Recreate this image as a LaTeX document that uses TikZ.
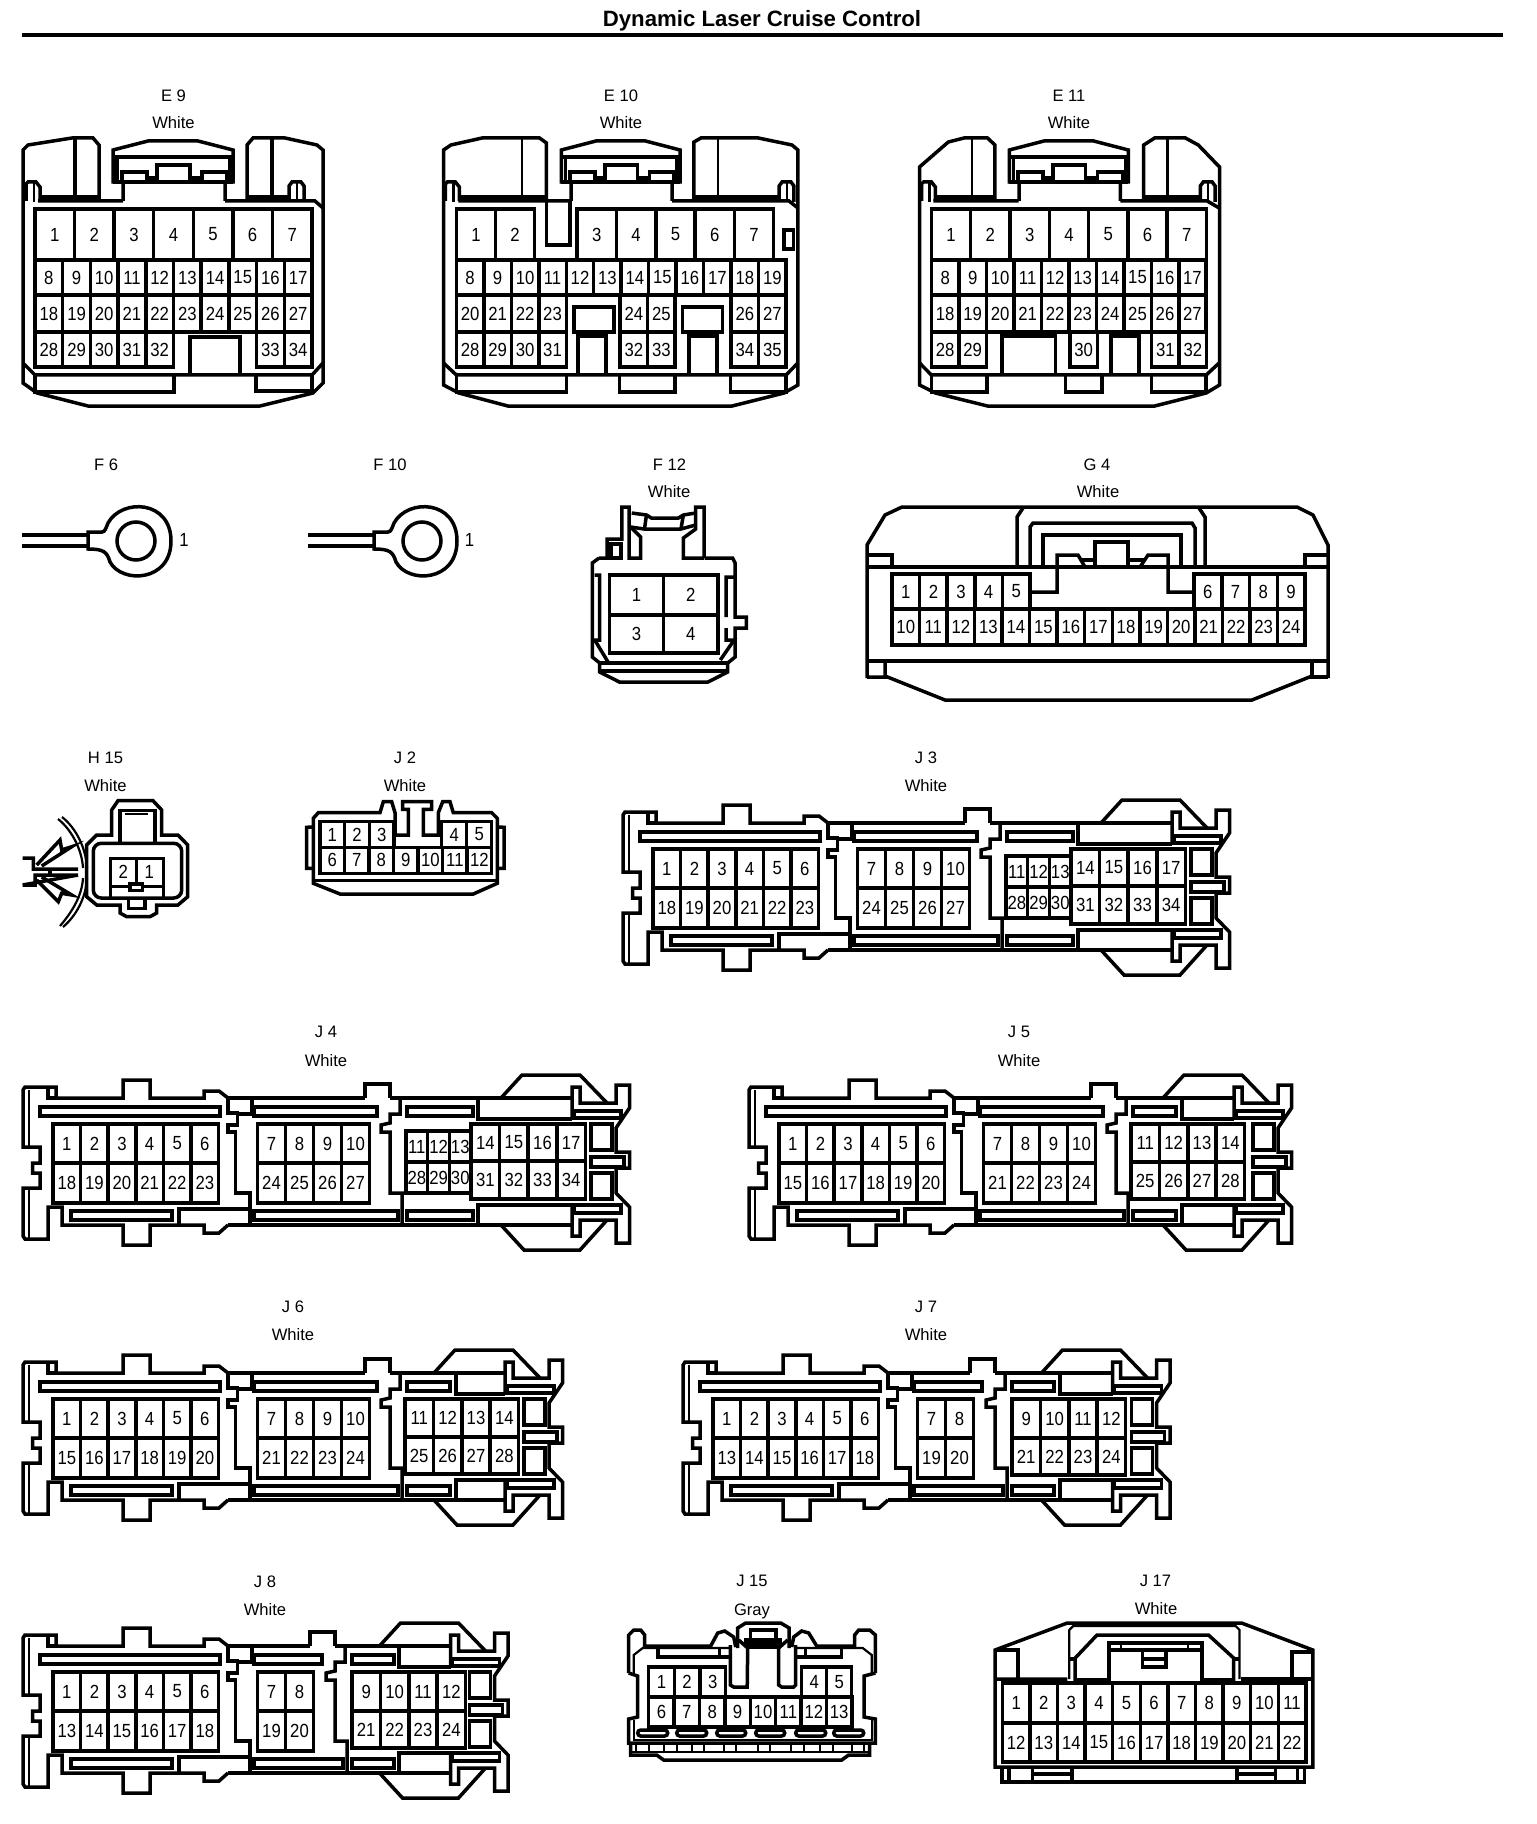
\documentclass[tikz,border=0pt]{standalone}
\usepackage{fontspec}
\setmainfont{Liberation Sans}
\newfontfamily\pinfont[FakeStretch=0.88]{Liberation Sans}
\tikzset{
 ol/.style={line width=1.75pt,line join=miter},
 tn/.style={line width=1.1pt},
 cell/.style={line width=1.75pt},
 pin/.style={inner sep=0pt,font=\pinfont\fontsize{9.5}{10}\selectfont},
 lab/.style={inner sep=0pt,font=\fontsize{8.3}{9}\selectfont},
}
\def\pfx{x}
\newcommand\prow[5]{%
 \foreach \lab [count=\i from 0] in {#5}{%
  \pgfmathsetmacro\xa{#1+\i*#2}\pgfmathsetmacro\xb{\xa+#2}%
  \pgfmathsetmacro\xc{\xa+#2/2}\pgfmathsetmacro\ym{(#3+#4)/2}%
  \draw[cell] (\xa,#3) rectangle (\xb,#4);
  \node[pin] (\pfx-\lab) at (\xc,\ym) {\lab};
 }}
\newcommand\conlab[4]{% name x y text
 \node[lab] (#1) at (#2,#3) {#4};}
% E family helpers
\newcommand\Etop[1]{\begin{scope}[shift={(#1,0)}]
 \draw[ol] (123,201)--(123,182)--(113,182)--(113,150)--(148,141)--(198,141)--(233,150)--(233,182)--(225,182)--(225,201);
 \draw[ol] (113,182)--(233,182);
 \draw[ol] (114,157)--(232,157);
 \draw[ol] (117,157)--(117,182);\draw[ol] (230,157)--(230,182);
 \draw[ol] (122,180)--(122,172)--(147,172)--(147,178)--(157,178)--(157,165)--(190,165)--(190,178)--(202,178)--(202,172)--(227,172)--(227,180);
\end{scope}}
\newcommand\Epl[1]{\draw[ol] (#1,201)--(#1,184)--(#1+2,182)--(#1+10,182)--(#1+14,187)--(#1+14,201);\draw[tn] (#1+8,183)--(#1+8,202);}
\newcommand\Epr[1]{\draw[ol] (#1,201)--(#1,186)--(#1+3,182)--(#1+12,182)--(#1+15,186)--(#1+15,202);\draw[tn] (#1+8,183)--(#1+8,201);}
% J family
\newcommand\Jconn[7]{%
\begin{scope}[shift={(#1,#2)}]
 \pgfmathsetmacro\ma{365+#3}\pgfmathsetmacro\mb{390+#3}
 \pgfmathsetmacro\ra{575+#4}
 \pgfmathsetmacro\sa{407+#3}
 \pgfmathsetmacro\ta{377+#3}\pgfmathsetmacro\tb{398+#3}
 % left
 \draw[ol] (228,1098)--(219,1091)--(204,1091)--(204,1098)--(150,1098)--(150,1080)--(123,1080)--(123,1098)--(56,1098)--(56,1087)--(25,1087)--(23,1090)--(23,1147)--(40,1147)--(40,1163)--(32.5,1163)--(32.5,1173)--(40,1173)--(40,1188)--(23,1188)--(23,1236)--(25,1239)--(48,1239)--(48,1207)--(62,1207)--(62,1225)--(123,1225)--(123,1245)--(150,1245)--(150,1225)--(204,1225)--(204,1233)--(219,1233)--(228,1225);
 \draw[tn] (29,1090)--(29,1147) (29,1188)--(29,1238);
 \draw[ol] (48,1088)--(48,1098)--(56,1098);
 \draw[ol] (40,1107) rectangle (220,1116);
 \draw[ol] (71,1211) rectangle (172,1220);
 \draw[ol] (179,1225)--(179,1209)--(250,1209);
 \draw[ol] (228,1098)--(228,1113)--(237.5,1113)--(237.5,1125)--(228,1125)--(228,1132)--(235.5,1132)--(235.5,1193)--(250,1193)--(250,1225);
 \draw[ol] (252,1098)--(252,1114)--(237.5,1114);
 \draw[ol] (254,1107) rectangle (\ta,1116);
 \draw[ol] (254,1211) rectangle (\tb,1220);
 % long lines
 \draw[ol] (228,1098)--(\ma,1098);
 \draw[ol] (\mb,1098)--(\ra,1098);
 \draw[ol] (228,1225)--(\ra,1225);
 % mid
 \begin{scope}[shift={(#3,0)}]
  \draw[ol] (365,1098)--(365,1084)--(390,1084)--(390,1098);
  \draw[ol] (390,1098)--(400,1098)--(400,1114)--(390,1114)--(390,1123)--(381,1125)--(381,1132)--(390,1132)--(390,1193)--(402,1193)--(402,1225);
 \end{scope}
 \draw[ol] (\sa,1107) rectangle (#5,1116);
 \draw[ol] (\sa,1211) rectangle (#5,1220);
 \draw[ol] (#6,1098)--(#6,1119)--(\ra,1119);
 \draw[ol] (#6,1225)--(#6,1205)--(\ra,1205);
 % right
 \begin{scope}[shift={(#4,0)}]
  \draw[ol] (504,1098)--(525,1075)--(583,1075)--(610,1103);
  \draw[ol] (575,1119)--(575,1087)--(583,1087)--(583,1103)--(619,1103)--(619,1085)--(632.5,1085)--(632.5,1108)--(619,1128)--(619,1152)--(632.5,1152)--(632.5,1168)--(619,1168)--(619,1193)--(632.5,1207)--(632.5,1243)--(619,1243)--(619,1220)--(583,1220)--(583,1236)--(575,1236)--(575,1205);
  \draw[ol] (504,1225)--(527,1250)--(583,1250)--(610,1220);
  \draw[ol] (577,1111) rectangle (624,1118);
  \draw[ol] (577,1205) rectangle (624,1213);
  \draw[ol] (594,1124) rectangle (615,1150);
  \draw[ol] (594,1157) rectangle (627,1167);
  \draw[ol] (594,1173) rectangle (615,1199);
 \end{scope}
 #7
\end{scope}}
\begin{document}
\begin{tikzpicture}[x=.5pt,y=-.5pt]
\useasboundingbox (0,0) rectangle (1536,1824);
\fill[white] (0,0) rectangle (1536,1824);
\node[inner sep=0pt,font=\bfseries\fontsize{11.1}{12}\selectfont] (title) at (762,21) {Dynamic Laser Cruise Control};
\coordinate (ra) at (22,35);\coordinate (rb) at (1503,35);
\draw[line width=2.4pt] (ra)--(rb);
% ---- E9
\conlab{E9n}{173.5}{96}{E 9}\conlab{E9c}{173.5}{123}{White}
\Etop{0}
\draw[ol] (38,201)--(123,201) (225,201)--(315,201)--(323,208);
\draw[ol] (99,201)--(99,145)--(93,138)--(72,138)--(28,145)--(23,150)--(23,383)--(37,393)--(88,406)--(260,406)--(313,393)--(323,383)--(323,150)--(317,145)--(285,138)--(253,138)--(247,145)--(247,201);
\Epl{26}\Epr{289}
\draw[ol] (40,197)--(99,197) (247,197)--(289,197);
\draw[ol] (75,138)--(75,197) (272,138)--(272,197);
\def\pfx{E9}
\prow{35}{39.57}{209}{260}{1,2,3,4,5,6,7}
\prow{35}{27.7}{260}{295}{8,9,10,11,12,13,14,15,16,17}
\prow{35}{27.7}{295}{332}{18,19,20,21,22,23,24,25,26,27}
\prow{35}{27.7}{332}{367}{28,29,30,31,32}
\prow{256.6}{27.7}{332}{367}{33,34}
\draw[ol] (190,373)--(190,337)--(240,337)--(240,373);
\draw[ol] (23,363)--(35,375)--(312,375)--(323,363);
\draw[ol] (35,375)--(35,392)--(174,392)--(174,375);
\draw[ol] (256,375)--(256,391)--(312,391)--(312,375);
% ---- E10
\conlab{E10n}{621}{96}{E 10}\conlab{E10c}{621}{123}{White}
\begin{scope}[shift={(3.94,0)},xscale=.99]
\Etop{450}
\draw[ol] (459,201)--(572,201) (675,201)--(793,201)--(802,208);
\draw[ol] (548,201)--(548,143)--(541,138)--(483,138)--(451.5,145)--(444,150)--(444,385)--(459.5,393)--(509,406)--(735.5,406)--(788,393)--(802,385)--(802,150)--(796,145)--(762,138)--(704,138)--(697,142)--(697,201);
\Epl{446}\Epr{783}
\draw[ol] (461,197)--(548,197) (697,197)--(783,197);
\draw[tn] (523.6,138)--(523.6,197) (721,138)--(721,197);
\draw[ol] (548,201)--(548,245)--(572,245)--(572,201);
\draw[ol] (788,230) rectangle (797.5,249);
\def\pfx{E10}
\prow{457}{39.5}{209}{260}{1,2}
\prow{579}{39.7}{209}{260}{3,4,5,6,7}
\prow{457}{27.75}{260}{295}{8,9,10,11,12,13,14,15,16,17,18,19}
\prow{457}{27.75}{295}{332}{20,21,22,23}
\prow{622.5}{27.75}{295}{332}{24,25}
\prow{734.5}{27.75}{295}{332}{26,27}
\prow{457}{27.75}{332}{367}{28,29,30,31}
\prow{622.5}{27.75}{332}{367}{32,33}
\prow{734.5}{27.75}{332}{367}{34,35}
\draw[ol] (576,307) rectangle (616,332);
\draw[ol] (685.5,307) rectangle (726,332);
\draw[ol] (580,373)--(580,336)--(608,336)--(608,373);
\draw[ol] (692,373)--(692,336)--(720,336)--(720,373);
\draw[ol] (444,363)--(457,375)--(790,375)--(802,363);
\draw[ol] (457,375)--(457,392)--(568,392)--(568,375);
\draw[ol] (622,375)--(622,392)--(678,392)--(678,375);
\draw[ol] (734,375)--(734,392)--(790,392)--(790,375);
\end{scope}
% ---- E11
\conlab{E11n}{1069}{96}{E 11}\conlab{E11c}{1069}{123}{White}
\begin{scope}[shift={(4.9,0)},xscale=.992]
\Etop{899.5}
\draw[ol] (936,201)--(1022,201) (1124.5,201)--(1212,201)--(1224,208);
\draw[ol] (998,201)--(998,145)--(990.5,138)--(967,138)--(951,142)--(922,167)--(922,385)--(938,393)--(990.5,406)--(1159,406)--(1211,393)--(1224.4,385)--(1224.4,167)--(1203,145)--(1190,138)--(1159,138)--(1148,145)--(1148,201);
\Epl{924}\Epr{1205}
\draw[ol] (938,197)--(998,197) (1148,197)--(1205,197);
\draw[tn] (974.7,138)--(974.7,197) (1172,138)--(1172,197);
\def\pfx{E11}
\prow{934}{39.6}{209}{260}{1,2,3,4,5,6,7}
\prow{934}{27.7}{260}{295}{8,9,10,11,12,13,14,15,16,17}
\prow{934}{27.7}{295}{332}{18,19,20,21,22,23,24,25,26,27}
\prow{934}{27.7}{332}{367}{28,29}
\prow{1073.5}{27.7}{332}{367}{30}
\prow{1156}{27.7}{332}{367}{31,32}
\draw[ol] (1005,373)--(1005,336)--(1059,336)--(1059,373);
\draw[ol] (1115,373)--(1115,336)--(1143,336)--(1143,373);
\draw[ol] (922,363)--(934,375)--(1211,375)--(1224,363);
\draw[ol] (934,375)--(934,392)--(990,392)--(990,375);
\draw[ol] (1069,375)--(1069,392)--(1106,392)--(1106,375);
\draw[ol] (1156,375)--(1156,392)--(1211,392)--(1211,375);
\end{scope}
% ---- F6, F10
\conlab{F6n}{106}{465}{F 6}
\conlab{F10n}{390}{465}{F 10}
\foreach \sx/\nm in {0/a,286/b}{
 \begin{scope}[shift={(\sx,0)}]
 \draw[ol] (22,535)--(88,535) (22,546)--(88,546);
 \draw[ol] (108,523) .. controls (122,498) and (171,500) .. (171,541) .. controls (171,582) and (122,584) .. (110,562) .. controls (107,552) and (104,549) .. (88,549)--(88,532)--(102,532) .. controls (105,532) and (106,528) .. (108,523);
 \draw[ol] (136,541) circle (19);
 \end{scope}}
\node[pin] (F6p) at (184,540) {1};
\node[pin] (F10p) at (469.5,540) {1};
% ---- F12
\begin{scope}[shift={(6.2,0)},xscale=.985]
\conlab{F12n}{673.5}{465}{F 12}\conlab{F12c}{673}{492}{White}
\draw[ol] (625,558)--(610,558)--(610,539)--(625,539)--(625,507)--(632.5,507)--(632.5,558)--(644,558)--(644,537)--(634,527);
\draw[ol] (602,558)--(610,558) (602,558)--(595,563)--(595,657)--(602.5,663)--(602.5,672)--(622.5,682)--(712.5,682)--(732.5,672)--(732.5,663)--(740,657)--(740,628)--(751.5,628)--(751.5,617)--(740,617)--(740,563)--(737.5,558)--(709,558);
\draw[ol] (708.5,558)--(708.5,507)--(700,507)--(700,529)--(687.5,538)--(687.5,558)--(708.5,558);
\draw[ol] (635,513)--(650,515)--(655,518)--(682.5,518)--(687.5,515)--(700,513);
\draw[ol] (634,527)--(647.5,529)--(685,529)--(700,525);
\draw[ol] (650,515)--(648,529) (687.5,515)--(685,529);
\draw[ol] (614,544) rectangle (624,558);
\draw[ol] (597.5,575)--(602.5,575)--(602.5,640)--(597.5,640)--(611,662);
\draw[ol] (739,577)--(731,577)--(731,617) (731,628)--(731,640)--(739,640)--(725,660);
\draw[ol] (602.5,663)--(732.5,663);
\draw[ol] (602.5,671)--(732.5,671);
\def\pfx{F12}
\prow{612.5}{55}{575}{615}{1,2}
\prow{612.5}{55}{615}{653}{3,4}
\end{scope}
% ---- G4
\conlab{G4n}{1097}{465}{G 4}\conlab{G4c}{1098}{492}{White}
\draw[ol] (867,678)--(867,545)--(885,515)--(902,507)--(1297,507)--(1313,515)--(1328,545)--(1328,678);
\draw[ol] (868,567)--(1327,567);
\draw[ol] (868,555)--(892,555)--(892,567) (1305,567)--(1305,555)--(1327,555);
\draw[ol] (1017,567)--(1017,517)--(1023,508) (1205,567)--(1205,517)--(1199,508);
\draw[ol] (1030,567)--(1030,527)--(1033,523)--(1192,523)--(1195,528)--(1195,567);
\draw[ol] (1043,567)--(1043,535)--(1181,535)--(1181,567);
\draw[ol] (1030,592)--(1057,592)--(1057,555)--(1078,555)--(1085,567);
\draw[ol] (1194,592)--(1168,592)--(1168,555)--(1148,555)--(1140,567);
\draw[ol] (1095,567)--(1095,542)--(1128,542)--(1128,567);
\draw[ol] (1082,560)--(1095,560) (1128,560)--(1145,560);
\def\pfx{G4}
\prow{892}{27.6}{574}{609}{1,2,3,4,5}
\prow{1194}{27.75}{574}{609}{6,7,8,9}
\prow{892}{27.53}{609}{645}{10,11,12,13,14,15,16,17,18,19,20,21,22,23,24}
\draw[ol] (867,661)--(1328,661);
\draw[ol] (867,677)--(885,677)--(885,661) (885,676)--(945,700)--(1252,700)--(1312,676);
\draw[ol] (1312,661)--(1312,677)--(1328,677);
% ---- H15
\conlab{H15n}{105.5}{758}{H 15}\conlab{H15c}{105.5}{786}{White}
\draw[ol] (111.7,835)--(111.7,810)--(118,800.7)--(153,800.7)--(161.7,810)--(161.7,835)--(178,835)--(187.7,845)--(187.7,896.7)--(178,905)--(156.7,905)--(156.7,913)--(150,916.7)--(126.7,916.7)--(120,913)--(120,905)--(96.7,905)--(86.7,896.7)--(86.7,845)--(96.7,835)--cycle;
\draw[ol,rounded corners=4pt] (93.3,843.3) rectangle (181.7,898);
\draw[ol] (120,843)--(120,810.7)--(155,810.7)--(155,843);
\draw[tn] (125,814)--(148,814);
\draw[ol] (110.7,897)--(110.7,858.3)--(163.3,858.3)--(163.3,897);
\draw[ol] (110.7,886.7)--(163.3,886.7);
\draw[ol] (136.7,858.3)--(136.7,884);
\draw[ol,fill=white] (130,884) rectangle (142.7,890.7);
\draw[ol] (128.3,898)--(128.3,908.3)--(145,908.3)--(145,898);
\node[pin] (H15-2) at (123.3,871.7) {2};
\node[pin] (H15-1) at (149.3,871.7) {1};
\draw[tn] (58,819) .. controls (72,830) and (82,850) .. (83,868);
\draw[tn] (62,817) .. controls (76,828) and (86,848) .. (87,868);
\draw[tn] (83,878) .. controls (82,896) and (72,912) .. (60,926);
\draw[tn] (87,878) .. controls (86,898) and (76,916) .. (63,927);
\draw[ol] (22.7,858)--(33.3,858)--(33.3,869)--(78,869) (78,875)--(35,875)--(35,885)--(22.7,885)--cycle;
\draw[ol] (36.7,865)--(60,840)--(61.7,850)--(71.7,846.7)--(41.7,866);
\draw[ol] (36.7,880)--(58.3,901.7)--(61.7,893.3)--(71.7,895)--(41.7,877);
\draw[ol] (50,869)--(50,875);
% ---- J2
\conlab{J2n}{405}{758}{J 2}\conlab{J2c}{405}{786}{White}
\draw[ol] (313.3,883.3)--(313.3,818.3)--(318.3,812.7)--(380,812.7)--(383.3,801.7)--(391.7,801.7)--(395,812.7)--(395,835)--(408.3,835)--(408.3,809.3)--(402.7,809.3)--(402.7,801.7)--(431.7,801.7)--(431.7,809.3)--(423.3,809.3)--(423.3,835)--(438.3,835)--(438.3,812.7)--(442.7,801.7)--(450,801.7)--(453.3,812.7)--(491.7,812.7)--(497.3,818.3)--(497.3,883.3)--(473.3,894)--(340,894)--cycle;
\draw[ol] (313.3,880.7)--(497.3,880.7);
\draw[ol] (312.7,827)--(306.7,827.3)--(306.7,868.3)--(312.7,868.3);
\draw[ol] (497.3,827)--(504,827.3)--(504,868.3)--(497.3,868.3);
\def\pfx{J2}
\prow{320}{24.67}{821.7}{847.3}{1,2,3}
\prow{441.7}{25}{821.7}{847.3}{4,5}
\prow{320}{24.53}{847.3}{873.3}{6,7,8,9,10,11,12}
% ---- J3, J4
\conlab{J3n}{926}{758}{J 3}\conlab{J3c}{926}{786}{White}
\def\pfx{J3}
\Jconn{600}{-275}{0}{-3}{473}{478}{%
 \prow{53}{27.6}{1124}{1163}{1,2,3,4,5,6}
 \prow{53}{27.6}{1163}{1203}{18,19,20,21,22,23}
 \prow{257.5}{28}{1124}{1163}{7,8,9,10}
 \prow{257.5}{28}{1163}{1203}{24,25,26,27}
 \prow{406}{21.7}{1131}{1162}{11,12,13}
 \prow{406}{21.7}{1162}{1193}{28,29,30}
 \prow{471}{28.6}{1124}{1161}{14,15,16,17}
 \prow{471}{28.6}{1161}{1199}{31,32,33,34}}
\conlab{J4n}{326}{1032}{J 4}\conlab{J4c}{326}{1061}{White}
\def\pfx{J4}
\Jconn{0}{0}{0}{-3}{473}{478}{%
 \prow{53}{27.6}{1124}{1163}{1,2,3,4,5,6}
 \prow{53}{27.6}{1163}{1203}{18,19,20,21,22,23}
 \prow{257.5}{28}{1124}{1163}{7,8,9,10}
 \prow{257.5}{28}{1163}{1203}{24,25,26,27}
 \prow{406}{21.7}{1131}{1162}{11,12,13}
 \prow{406}{21.7}{1162}{1193}{28,29,30}
 \prow{471}{28.6}{1124}{1161}{14,15,16,17}
 \prow{471}{28.6}{1161}{1199}{31,32,33,34}}
% ---- J5, J6
\conlab{J5n}{1019}{1032}{J 5}\conlab{J5c}{1019}{1061}{White}
\def\pfx{J5}
\Jconn{726}{0}{0}{-67}{450}{456}{%
 \prow{53}{27.6}{1124}{1163}{1,2,3,4,5,6}
 \prow{53}{27.6}{1163}{1203}{15,16,17,18,19,20}
 \prow{257.5}{28}{1124}{1163}{7,8,9,10}
 \prow{257.5}{28}{1163}{1203}{21,22,23,24}
 \prow{405}{28.4}{1124}{1162}{11,12,13,14}
 \prow{405}{28.4}{1162}{1199}{25,26,27,28}}
\conlab{J6n}{293}{1307}{J 6}\conlab{J6c}{293}{1335}{White}
\def\pfx{J6}
\Jconn{0}{275}{0}{-70}{450}{456}{%
 \prow{53}{27.6}{1124}{1163}{1,2,3,4,5,6}
 \prow{53}{27.6}{1163}{1203}{15,16,17,18,19,20}
 \prow{257.5}{28}{1124}{1163}{7,8,9,10}
 \prow{257.5}{28}{1163}{1203}{21,22,23,24}
 \prow{405}{28.4}{1124}{1162}{11,12,13,14}
 \prow{405}{28.4}{1162}{1199}{25,26,27,28}}
% ---- J7, J8
\conlab{J7n}{926}{1307}{J 7}\conlab{J7c}{926}{1335}{White}
\def\pfx{J7}
\Jconn{660}{275}{-55}{-122.5}{394}{400}{%
 \prow{53}{27.6}{1124}{1163}{1,2,3,4,5,6}
 \prow{53}{27.6}{1163}{1203}{13,14,15,16,17,18}
 \prow{257.5}{28}{1124}{1163}{7,8}
 \prow{257.5}{28}{1163}{1203}{19,20}
 \prow{352}{28.4}{1124}{1163}{9,10,11,12}
 \prow{352}{28.4}{1163}{1200}{21,22,23,24}}
\conlab{J8n}{265}{1582}{J 8}\conlab{J8c}{265}{1610}{White}
\def\pfx{J8}
\Jconn{0}{548}{-55}{-124.5}{394}{399}{%
 \prow{53}{27.6}{1124}{1163}{1,2,3,4,5,6}
 \prow{53}{27.6}{1163}{1203}{13,14,15,16,17,18}
 \prow{257.5}{28}{1124}{1163}{7,8}
 \prow{257.5}{28}{1163}{1203}{19,20}
 \prow{352}{28.4}{1124}{1163}{9,10,11,12}
 \prow{352}{28.4}{1163}{1200}{21,22,23,24}}
% ---- J15
\conlab{J15n}{752}{1581}{J 15}\conlab{J15c}{752}{1611}{Gray}
\begin{scope}[shift={(-2.3,0)}]
\draw[ol] (631,1673)--(631,1635)--(636,1630)--(643,1630)--(647,1635)--(647,1646)--(713,1646)--(720,1633)--(727,1631)--(736,1637)--(738,1647);
\draw[ol] (740,1648)--(740,1628)--(748,1623)--(783,1623)--(791.5,1628)--(791.5,1648);
\draw[ol] (794,1647)--(796,1637)--(804,1631)--(811,1633)--(819,1646)--(857,1646)--(857,1635)--(861,1630)--(872,1630)--(877.7,1635)--(877.7,1673);
\draw[ol] (631,1673)--(640,1676)--(640,1717)--(631,1719)--(631,1743)--(877.7,1743)--(877.7,1719)--(866.4,1717)--(866.4,1676)--(877.7,1673);
\draw[tn] (636,1673)--(636,1655)--(645,1648)--(732,1648) (798,1648)--(865,1648)--(874,1655)--(874,1673);
\draw[tn] (636,1720)--(636,1740)--(874,1740)--(874,1720);
\draw[ol] (660.5,1648)--(660.5,1657)--(722,1657)--(722,1648);
\draw[ol] (808,1648)--(808,1657)--(844,1657)--(844,1648);
\draw[ol] (722,1657)--(732.6,1657) (798,1657)--(808,1657);
\draw[ol] (732.6,1645)--(732.6,1685)--(736,1687)--(749.5,1687)--(750,1648)--(741,1640);
\draw[ol] (798,1645)--(798,1685)--(796,1687)--(784,1687)--(781,1685)--(781,1648)--(790,1640);
\draw[ol] (750,1647)--(781,1647);
\draw[ol] (752.7,1630) rectangle (778.5,1640);
\draw[ol] (748,1640) rectangle (783,1644);
\def\pfx{J15}
\prow{651}{25.6}{1667}{1697}{1,2,3}
\prow{804}{25}{1667}{1697}{4,5}
\prow{651}{25.4}{1697}{1727}{6,7,8,9,10,11,12,13}
\foreach \a/\b in {640/670,679/709,719/748,758/787,798/828,836/866}{
 \draw[ol,rounded corners=1.5pt] (\a,1730) rectangle (\b,1736);}
\draw[ol] (633,1743)--(633,1755)--(659,1755)--(666,1760)--(844,1760)--(851,1755)--(872,1755)--(872,1743);
\draw[tn] (633,1752)--(872,1752);
\foreach \a/\b in {638/651,666/679,694/706,726/738,760/772,793/806,822/835,854/866}{
 \draw[tn] (\a,1743) rectangle (\b,1752);}
\end{scope}
% ---- J17
\conlab{J17n}{1155.5}{1581}{J 17}\conlab{J17c}{1156}{1609}{White}
\begin{scope}[shift={(7,0)},xscale=.99]
\draw[ol] (1071,1679)--(998,1679) (998,1767)--(998,1650)--(1071,1623)--(1247,1623)--(1319,1650)--(1319,1767)--cycle;
\draw[ol] (1246,1679)--(1319,1679);
\draw[tn] (1073,1679)--(1073,1630)--(1077,1626)--(1241,1626)--(1245,1630)--(1245,1679);
\draw[ol] (1079,1682)--(1079,1658)--(1101,1635)--(1213.6,1635)--(1239,1658)--(1239,1682);
\draw[ol] (1073,1659)--(1079,1659) (1239,1659)--(1245,1659);
\draw[ol] (1079,1680)--(1113,1680) (1207,1680)--(1239,1680);
\draw[ol] (1113,1682)--(1113,1643)--(1207,1643)--(1207,1682);
\draw[ol] (1113,1650)--(1207,1650);
\draw[tn] (1125,1643)--(1125,1650) (1193,1643)--(1193,1650);
\draw[ol] (1147,1650)--(1147,1667)--(1170.6,1667)--(1170.6,1650);
\draw[ol] (1147,1659)--(1170.6,1659);
\draw[ol] (1000,1650)--(1021,1650)--(1021,1679) (1298,1679)--(1298,1652)--(1317,1652);
\def\pfx{J17}
\prow{1005.4}{27.87}{1683}{1723}{1,2,3,4,5,6,7,8,9,10,11}
\prow{1005.4}{27.87}{1723}{1762}{12,13,14,15,16,17,18,19,20,21,22}
\draw[ol] (1005,1767)--(1005,1782)--(1310.5,1782)--(1310.5,1767);
\draw[ol] (1012,1767)--(1012,1782) (1036,1767)--(1036,1782) (1075.6,1767)--(1075.6,1782) (1242.6,1767)--(1242.6,1782) (1281.5,1767)--(1281.5,1782) (1303.5,1767)--(1303.5,1782);
\draw[ol] (1036,1774)--(1075.6,1774) (1242.6,1774)--(1281.5,1774);
\end{scope}
\end{tikzpicture}
\end{document}
